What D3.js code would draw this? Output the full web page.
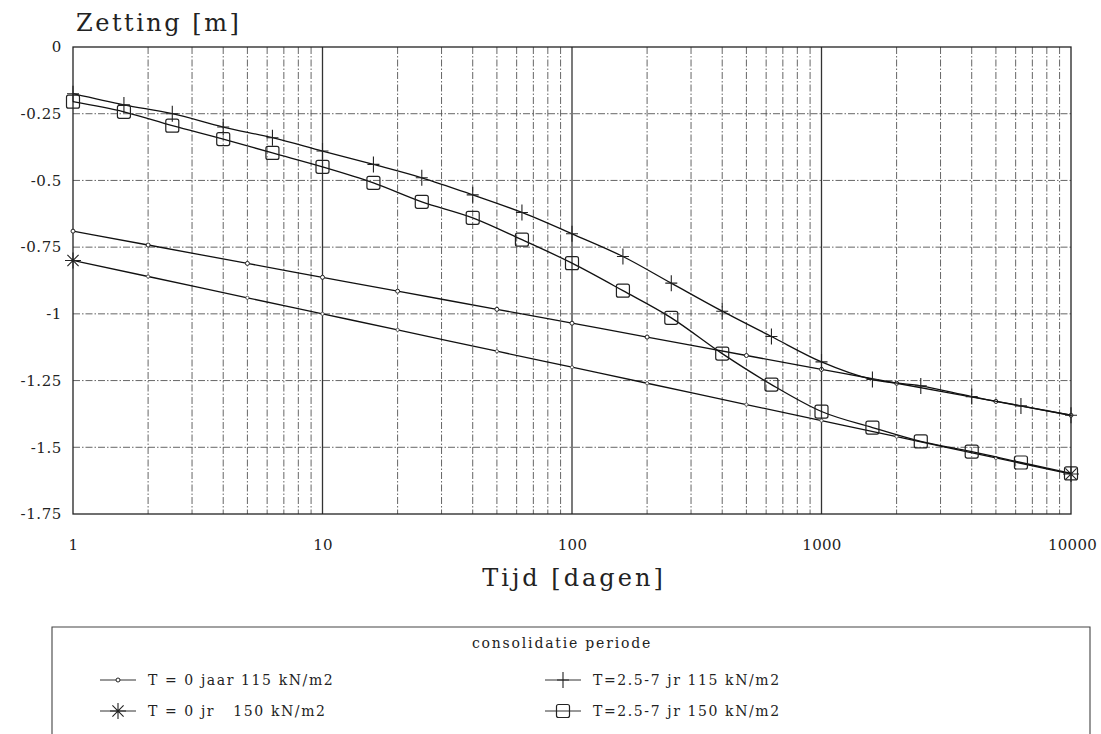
<!DOCTYPE html>
<html>
<head>
<meta charset="utf-8">
<script src="https://cdn.jsdelivr.net/npm/d3@7"></script>
<style>
  body { margin: 0; background: #fff; }
  svg { display: block; }
  text { font-family: "DejaVu Serif", "Liberation Serif", serif; fill: #222; }
</style>
</head>
<body>
<svg id="canvas"></svg>
<script>
const width = 1101
const height = 734

// time points (days)
const tDecade = [1, 2, 5, 10, 20, 50, 100, 200, 500, 1000, 2000, 5000, 10000]
const tFifth = [1, 1.6, 2.5, 4, 6.3, 10, 16, 25, 40, 63, 100, 160, 250, 400, 630, 1000, 1600, 2500, 4000, 6300, 10000]

// settlement values [m]
const t0_115 = [-0.69, -0.742, -0.811, -0.863, -0.915, -0.983, -1.035, -1.087, -1.156, -1.208, -1.26, -1.328, -1.38]
const t0_150 = [-0.80, -0.86, -0.94, -1.00, -1.06, -1.14, -1.20, -1.26, -1.34, -1.40, -1.46, -1.54, -1.60]
const t25_115 = [-0.175, -0.217, -0.25, -0.30, -0.34, -0.39, -0.44, -0.49, -0.554, -0.62, -0.70, -0.785, -0.885, -0.99, -1.085, -1.18, -1.246, -1.27, -1.31, -1.345, -1.38]
const t25_150 = [-0.205, -0.243, -0.295, -0.345, -0.397, -0.449, -0.509, -0.58, -0.64, -0.722, -0.81, -0.913, -1.015, -1.149, -1.265, -1.366, -1.426, -1.478, -1.516, -1.557, -1.598]

const yTicks = [0, -0.25, -0.5, -0.75, -1, -1.25, -1.5, -1.75]
const yTickLabels = ["0", "-0.25", "-0.5", "-0.75", "-1", "-1.25", "-1.5", "-1.75"]
const xTicks = [1, 10, 100, 1000, 10000]
const xTickLabels = ["1", "10", "100", "1000", "10000"]

const legendLabels = ["T = 0 jaar 115 kN/m2", "T = 0 jr   150 kN/m2", "T=2.5-7 jr 115 kN/m2", "T=2.5-7 jr 150 kN/m2"]

const plotLeft = 73, plotRight = 1071, plotTop = 47, plotBottom = 514

const canvas = d3.select("#canvas").attr("width", width).attr("height", height)

const xScale = d3.scaleLog().domain([1, 10000]).range([plotLeft, plotRight])
const yScale = d3.scaleLinear().domain([0, -1.75]).range([plotTop, plotBottom])

// grid
const isDecade = d => [10, 100, 1000].includes(d)
const grid = canvas.append("g")
grid.selectAll(".vgrid")
  .data(xScale.ticks().filter(d => d > 1 && d < 10000))
  .enter()
  .append("line")
  .attr("x1", d => xScale(d)).attr("x2", d => xScale(d))
  .attr("y1", plotTop).attr("y2", plotBottom)
  .attr("stroke", d => isDecade(d) ? "#333" : "#555")
  .attr("stroke-width", d => isDecade(d) ? 1.3 : 0.9)
  .attr("stroke-dasharray", d => isDecade(d) ? null : "7,2,1.5,2")

grid.selectAll(".hgrid")
  .data(yTicks.filter(d => d < 0 && d > -1.75))
  .enter()
  .append("line")
  .attr("x1", plotLeft).attr("x2", plotRight)
  .attr("y1", d => yScale(d)).attr("y2", d => yScale(d))
  .attr("stroke", "#555")
  .attr("stroke-width", 0.9)
  .attr("stroke-dasharray", "7,2,1.5,2")

canvas.append("rect")
  .attr("x", plotLeft).attr("y", plotTop)
  .attr("width", plotRight - plotLeft).attr("height", plotBottom - plotTop)
  .attr("fill", "none").attr("stroke", "#222").attr("stroke-width", 1.3)

// axes
const yAxis = d3.axisLeft(yScale)
  .tickValues(yTicks)
  .tickSize(0)
  .tickPadding(11)
  .tickFormat((d, i) => yTickLabels[i])
canvas.append("g")
  .attr("transform", "translate(" + plotLeft + ",0)")
  .call(yAxis)
  .call(g => g.select(".domain").remove())
  .selectAll("text")
  .attr("font-size", 15).attr("letter-spacing", 0.6)
  .attr("font-family", "DejaVu Serif")

const xAxis = d3.axisBottom(xScale)
  .tickValues(xTicks)
  .tickSize(0)
  .tickPadding(25)
  .tickFormat((d, i) => xTickLabels[i])
canvas.append("g")
  .attr("transform", "translate(0," + plotBottom + ")")
  .call(xAxis)
  .call(g => g.select(".domain").remove())
  .selectAll("text")
  .attr("font-size", 15).attr("letter-spacing", 0.3)
  .attr("font-family", "DejaVu Serif")
  .attr("dx", (d, i) => i === 4 ? 1 : 0)

canvas.append("text")
  .attr("x", 76).attr("y", 31)
  .attr("font-size", 24).attr("letter-spacing", 2.5)
  .text("Zetting [m]")

canvas.append("text")
  .attr("x", 574).attr("y", 586)
  .attr("text-anchor", "middle")
  .attr("font-size", 24).attr("letter-spacing", 3)
  .text("Tijd [dagen]")

// series
const series = [
  { t: tDecade, v: t0_115, marker: "dot" },
  { t: tDecade, v: t0_150, marker: "star" },
  { t: tFifth, v: t25_115, marker: "plus" },
  { t: tFifth, v: t25_150, marker: "square" }
]

const line = d3.line()
  .x(d => xScale(d[0]))
  .y(d => yScale(d[1]))
  .curve(d3.curveMonotoneX)

const drawMarker = (g, type, x, y, i, n) => {
  if (type === "dot") {
    g.append("circle").attr("cx", x).attr("cy", y).attr("r", 2)
      .attr("fill", "#fff").attr("stroke", "#222").attr("stroke-width", 1)
  } else if (type === "star") {
    if (i === 0 || i === n - 1) {
      const s = 8
      g.append("path")
        .attr("d", `M${x - s},${y}H${x + s}M${x},${y - s}V${y + s}M${x - s * 0.7},${y - s * 0.7}L${x + s * 0.7},${y + s * 0.7}M${x - s * 0.7},${y + s * 0.7}L${x + s * 0.7},${y - s * 0.7}`)
        .attr("stroke", "#222").attr("stroke-width", 1.1).attr("fill", "none")
    } else {
      g.append("circle").attr("cx", x).attr("cy", y).attr("r", 1.6)
        .attr("fill", "#fff").attr("stroke", "#444").attr("stroke-width", 0.8)
    }
  } else if (type === "plus") {
    g.append("path")
      .attr("d", `M${x - 6},${y}H${x + 6}M${x},${y - 8}V${y + 8}`)
      .attr("stroke", "#222").attr("stroke-width", 1.1).attr("fill", "none")
  } else if (type === "square") {
    g.append("rect").attr("x", x - 6.5).attr("y", y - 6.5)
      .attr("width", 13).attr("height", 13).attr("rx", 2)
      .attr("fill", "none").attr("stroke", "#222").attr("stroke-width", 1.2)
  }
}

series.forEach(s => {
  const pts = s.t.map((t, i) => [t, s.v[i]])
  canvas.append("path")
    .datum(pts)
    .attr("d", line)
    .attr("fill", "none")
    .attr("stroke", "#111")
    .attr("stroke-width", 1.3)
  const g = canvas.append("g")
  pts.forEach((p, i) => drawMarker(g, s.marker, xScale(p[0]), yScale(p[1]), i, pts.length))
})

// legend
const legend = canvas.append("g")
legend.append("path")
  .attr("d", "M52,740V627H1090V740")
  .attr("fill", "none").attr("stroke", "#444").attr("stroke-width", 1.1)

legend.append("text")
  .attr("x", 562).attr("y", 648)
  .attr("text-anchor", "middle")
  .attr("font-size", 14).attr("letter-spacing", 1.8)
  .text("consolidatie periode")

const legendPos = [
  { x: 100, y: 680 }, { x: 100, y: 711 },
  { x: 545, y: 680 }, { x: 545, y: 711 }
]
series.forEach((s, i) => {
  const p = legendPos[i]
  legend.append("line")
    .attr("x1", p.x).attr("x2", p.x + 36)
    .attr("y1", p.y).attr("y2", p.y)
    .attr("stroke", "#333").attr("stroke-width", 1)
  drawMarker(legend, s.marker, p.x + 18, p.y, 0, 1)
  legend.append("text")
    .attr("x", p.x + 48).attr("y", p.y + 5)
    .attr("font-size", 14).attr("letter-spacing", 1.6)
    .style("white-space", "pre")
    .text(legendLabels[i])
})
</script>
</body>
</html>
